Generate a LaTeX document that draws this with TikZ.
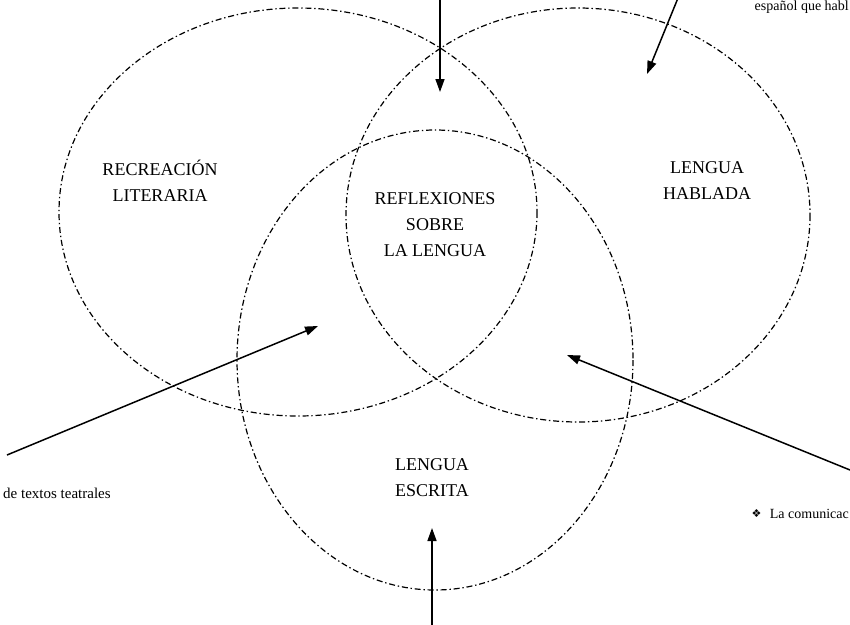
\documentclass[tikz,border=0pt]{standalone}
\usepackage{fontspec}
\setmainfont{Liberation Serif}
\newfontfamily\symfont{DejaVu Sans}
\usetikzlibrary{arrows.meta,positioning}

\tikzset{
  circulo/.style={line width=1.2pt, dash pattern=on 6pt off 2.8pt on 1.4pt off 2.8pt},
  flecha/.style={line width=1.5pt, -{Triangle[length=13pt,width=9pt]}},
  campo/.style={font=\fontsize{18}{26}\selectfont, align=center, inner sep=0pt},
  nota/.style={font=\fontsize{15}{18}\selectfont, inner sep=0pt, anchor=base west},
}

\begin{document}
\begin{tikzpicture}[x=1pt, y=-1pt]
    \clip (0,0) rectangle (850,624);
    \fill[white] (0,0) rectangle (850,624);

    % =========================================================
    % THREE OVERLAPPING FIELDS
    % =========================================================
    \draw[circulo] (298,212) ellipse [x radius=239, y radius=204];
    \draw[circulo] (578,215) ellipse [x radius=232, y radius=207];
    \draw[circulo] (435,360) ellipse [x radius=198, y radius=230];

    % Field labels
    \node[campo] (recreacion) at (160,181) {RECREACIÓN\\LITERARIA};
    \node[campo] (hablada) at (707,181) {LENGUA\\HABLADA};
    \node[campo] (reflexiones) at (435,225) {REFLEXIONES\\SOBRE\\LA LENGUA};
    \node[campo] (escrita) at (432,478) {LENGUA\\ESCRITA};

    % =========================================================
    % SIDE NOTES
    % =========================================================
    \node[nota, anchor=base east, font=\fontsize{14}{17}\selectfont] (hablan) at (849,10) {español que habl};
    \node[nota] (teatrales) at (3,498) {de textos teatrales};
    \node[nota, anchor=base east, font=\fontsize{14}{17}\selectfont] (comunicacion) at (849,518) {La comunicac};
    \node[font=\symfont\fontsize{11}{13}\selectfont, inner sep=0pt,
          left=8pt of comunicacion.west] (vineta) {❖};

    % =========================================================
    % ARROWS
    % =========================================================
    \coordinate (arribaIni) at (440,-2);
    \coordinate (arribaFin) at (440,92);
    \coordinate (hablaIni) at (678,-2);
    \coordinate (hablaFin) at (647,74);
    \coordinate (teatroIni) at (7,455);
    \coordinate (teatroFin) at (318,326);
    \coordinate (comunIni) at (850,470);
    \coordinate (comunFin) at (567,355);
    \coordinate (abajoIni) at (432,626);
    \coordinate (abajoFin) at (432,528);

    \draw[flecha] (arribaIni) -- (arribaFin);
    \draw[flecha] (hablaIni) -- (hablaFin);
    \draw[flecha] (teatroIni) -- (teatroFin);
    \draw[flecha] (comunIni) -- (comunFin);
    \draw[flecha] (abajoIni) -- (abajoFin);
\end{tikzpicture}
\end{document}
